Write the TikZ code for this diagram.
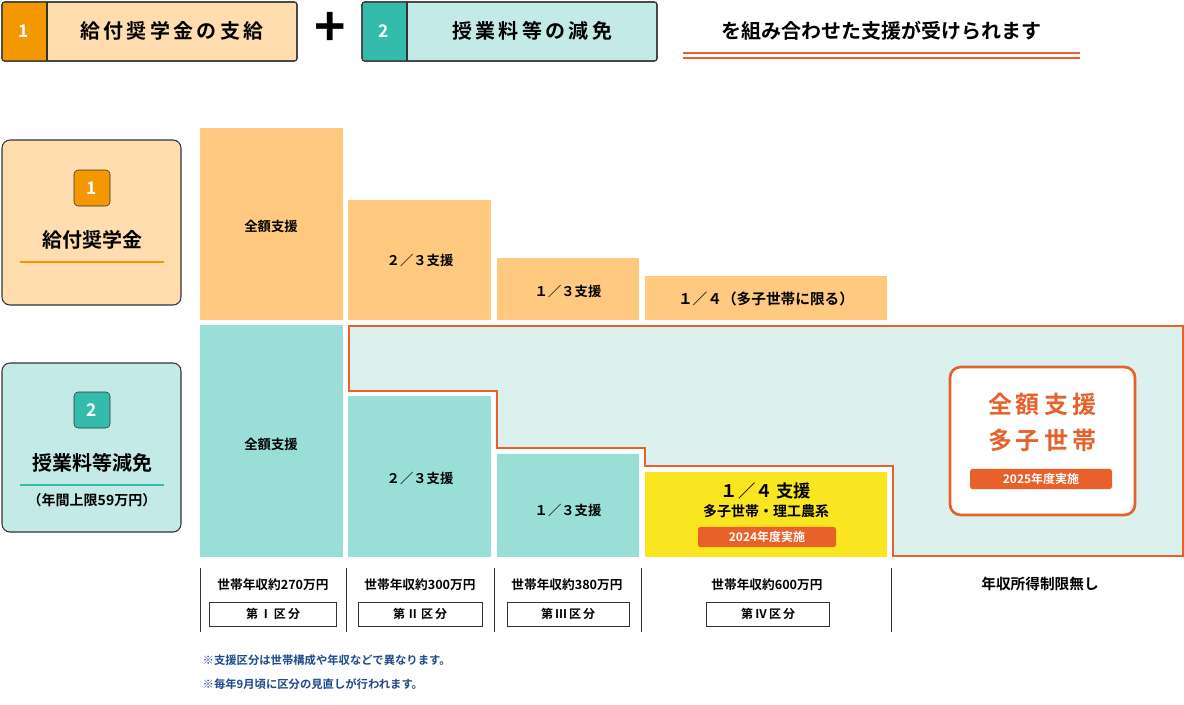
\documentclass[tikz,border=0pt]{standalone}
\usepackage{fontspec}
\setmainfont{Noto Sans CJK JP}[BoldFont={* Bold}]
\newfontfamily\jpb{Noto Sans CJK JP Bold}
\definecolor{orA}{HTML}{F39800}
\definecolor{orL}{HTML}{FFDDAF}
\definecolor{teA}{HTML}{35BBAC}
\definecolor{teL}{HTML}{C3EAE6}
\definecolor{orB}{HTML}{FFCA80}
\definecolor{teB}{HTML}{9ADFD7}
\definecolor{reg}{HTML}{DAF1EE}
\definecolor{red}{HTML}{E8602A}
\definecolor{yel}{HTML}{F9E621}
\definecolor{nb}{HTML}{1E4A8A}
\definecolor{dk}{HTML}{333333}
\begin{document}
\begin{tikzpicture}[x=0.75pt,y=-0.75pt,
  hbox/.style={draw=dk,line width=0.8pt,rounded corners=2pt},
  t/.style={font=\jpb\fontsize{10}{12}\selectfont,text=black},
  lab/.style={font=\jpb\fontsize{9.5}{11}\selectfont},
  kb/.style={draw=dk,fill=white,line width=0.6pt,minimum width=#1*0.75pt,minimum height=18pt,font=\jpb\fontsize{9}{11}\selectfont},
  badge/.style={fill=red,text=white,rounded corners=2pt,font=\jpb\fontsize{9}{11}\selectfont,minimum height=15pt,minimum width=#1*0.75pt},
  num/.style={draw=dk,rounded corners=3pt,minimum size=27pt,text=white,font=\jpb\fontsize{13}{15}\selectfont}]
\useasboundingbox (0,0) rectangle (1184,704);
% header
\draw[hbox,fill=orL] (2,2) rectangle (297,61);
\fill[orA,rounded corners=2pt] (2.5,2.5) rectangle (47,60.5);
\draw[dk,line width=0.8pt] (47,2) -- (47,61);
\draw[hbox] (2,2) rectangle (297,61);
\node[text=white,font=\jpb\fontsize{13}{15}\selectfont] (h1n) at (24,31) {1};
\node[font=\jpb\fontsize{15}{18}\selectfont] (h1t) at (172,31) {給\,付\,奨\,学\,金\,の\,支\,給};
\node[font=\bfseries\fontsize{40}{40}\selectfont] (plus) at (330,29) {+};
\draw[hbox,fill=teL] (362,2) rectangle (657,61);
\fill[teA,rounded corners=2pt] (362.5,2.5) rectangle (407,60.5);
\draw[dk,line width=0.8pt] (407,2) -- (407,61);
\draw[hbox] (362,2) rectangle (657,61);
\node[text=white,font=\jpb\fontsize{13}{15}\selectfont] (h2n) at (384,31) {2};
\node[font=\jpb\fontsize{15}{18}\selectfont] (h2t) at (532,31) {授\,業\,料\,等\,の\,減\,免};
\node[font=\jpb\fontsize{15}{18}\selectfont] (h3) at (881,31) {を組み合わせた支援が受けられます};
\draw[red,line width=1pt] (683,53) -- (1080,53) (683,58) -- (1080,58);
% left boxes
\draw[hbox,rounded corners=6pt,fill=orL] (2,140) rectangle (181,305);
\node[num,fill=orA] (n1) at (92,188) {1};
\node[font=\jpb\fontsize{15}{18}\selectfont] (l1) at (92,240) {給付奨学金};
\draw[orA,line width=2pt] (20,262) -- (164,262);
\draw[hbox,rounded corners=6pt,fill=teL] (2,363) rectangle (181,532);
\node[num,fill=teA] (n2) at (92,410) {2};
\node[font=\jpb\fontsize{15}{18}\selectfont] (l2) at (92,463) {授業料等減免};
\draw[teA,line width=2pt] (20,485) -- (164,485);
\node[font=\jpb\fontsize{10.5}{12}\selectfont] (l2b) at (92,500) {（年間上限59万円）};
% orange blocks
\fill[orB] (200,128) rectangle (343,320);
\fill[orB] (348,200) rectangle (491,320);
\fill[orB] (497,258) rectangle (639,320);
\fill[orB] (645,276) rectangle (887,320);
\node[t] (o1) at (271,226) {全額支援};
\node[t] (o2) at (420,260) {２／３支援};
\node[t] (o3) at (568,291) {１／３支援};
\node[t,font=\jpb\fontsize{11}{13}\selectfont] (o4) at (766,299) {１／４（多子世帯に限る）};
% teal
\fill[teB] (200,325) rectangle (343,557);
\fill[reg] (349,326) -- (1183,326) -- (1183,556) -- (893,556) -- (893,466) -- (645,466) -- (645,448) -- (497,448) -- (497,391) -- (349,391) -- cycle;
\fill[teB] (348,396) rectangle (491,557);
\fill[teB] (497,454) rectangle (639,557);
\fill[yel] (645,472) rectangle (887,557);
\draw[red,line width=2pt] (349,326) -- (1183,326) -- (1183,556) -- (893,556) -- (893,466) -- (645,466) -- (645,448) -- (497,448) -- (497,391) -- (349,391) -- cycle;
\node[t] (t1) at (271,444) {全額支援};
\node[t] (t2) at (420,478) {２／３支援};
\node[t] (t3) at (568,510) {１／３支援};
\node[font=\jpb\fontsize{13}{15}\selectfont] (y1) at (766,491) {１／４ 支援};
\node[font=\jpb\fontsize{10.5}{12}\selectfont] (y2) at (766,511) {多子世帯・理工農系};
\node[badge=138] (y3) at (767,537) {2024年度実施};
\draw[red,fill=white,line width=2pt,rounded corners=8pt] (950,367) rectangle (1135,515);
\node[text=red,font=\jpb\fontsize{18}{22}\selectfont] (r1) at (1042,404) {全\,額\,支\,援};
\node[text=red,font=\jpb\fontsize{18}{22}\selectfont] (r2) at (1042,440) {多\,子\,世\,帯};
\node[badge=142] (r3) at (1041,479) {2025年度実施};
% bottom
\foreach \x in {200,346,494,641,891} \draw[dk,line width=0.6pt] (\x,568) -- (\x,632);
\node[lab] (b1) at (273,585) {世帯年収約270万円};
\node[lab] (b2) at (420,585) {世帯年収約300万円};
\node[lab] (b3) at (567,585) {世帯年収約380万円};
\node[lab] (b4) at (767,585) {世帯年収約600万円};
\node[lab,font=\jpb\fontsize{11}{13}\selectfont] (b5) at (1040,584) {年収所得制限無し};
\node[kb=127] (k1) at (273,614) {第\,Ⅰ\,区\,分};
\node[kb=124] (k2) at (420,614) {第\,Ⅱ\,区\,分};
\node[kb=122] (k3) at (568,614) {第\,Ⅲ\,区\,分};
\node[kb=123] (k4) at (768,614) {第\,Ⅳ\,区\,分};
\node[anchor=west,text=nb,font=\jpb\fontsize{8.5}{10}\selectfont] (nt1) at (198,660) {※支援区分は世帯構成や年収などで異なります。};
\node[anchor=west,text=nb,font=\jpb\fontsize{8.5}{10}\selectfont] (nt2) at (198,684) {※毎年9月頃に区分の見直しが行われます。};
\end{tikzpicture}
\end{document}
